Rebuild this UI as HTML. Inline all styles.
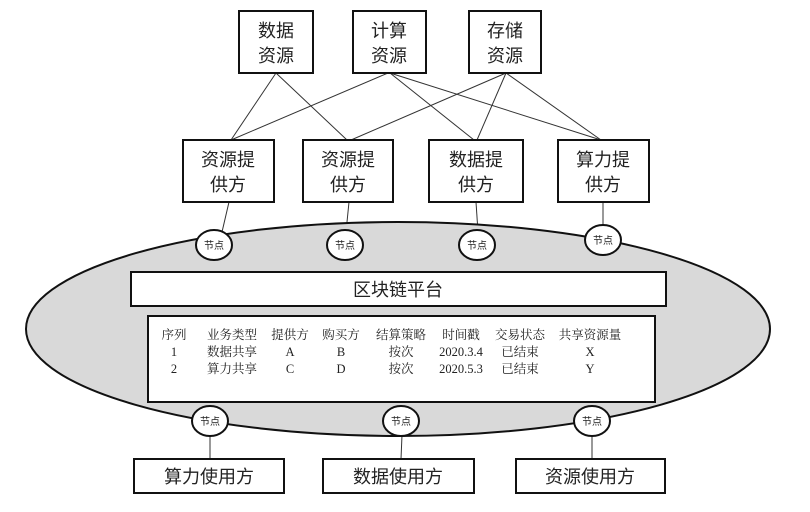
<!DOCTYPE html>
<html><head><meta charset="utf-8"><style>
body{margin:0;background:#fff}
svg text{fill:#222}
.sans text{font-family:"Liberation Sans","Noto Sans CJK SC",sans-serif}
.ser text{font-family:"Liberation Serif","Noto Serif CJK SC",serif}
</style></head><body>
<svg width="810" height="507" viewBox="0 0 810 507" xmlns="http://www.w3.org/2000/svg">
<g stroke="#333" stroke-width="1" fill="none">
<line x1="276" y1="73" x2="231" y2="140"/><line x1="276" y1="73" x2="347" y2="140"/>
<line x1="388" y1="73" x2="231" y2="140"/><line x1="390" y1="73" x2="474" y2="140"/><line x1="390" y1="73" x2="601" y2="140"/>
<line x1="506" y1="73" x2="351" y2="140"/><line x1="506" y1="73" x2="477" y2="140"/><line x1="506" y1="73" x2="601" y2="140"/>
<line x1="229" y1="202" x2="222" y2="232"/><line x1="349" y1="202" x2="346" y2="232"/><line x1="476" y1="202" x2="478" y2="232"/><line x1="603" y1="202" x2="603" y2="228"/>
<line x1="210" y1="435" x2="210" y2="459"/><line x1="402" y1="435" x2="401" y2="459"/><line x1="592" y1="435" x2="592" y2="459"/>
</g>
<ellipse cx="398" cy="329" rx="372" ry="107" fill="#d9d9d9" stroke="#111" stroke-width="2"/>
<g fill="#fff" stroke="#111" stroke-width="2">
<rect x="239" y="11" width="74" height="62"/><rect x="353" y="11" width="73" height="62"/><rect x="469" y="11" width="72" height="62"/>
<rect x="183" y="140" width="91" height="62"/><rect x="303" y="140" width="90" height="62"/><rect x="429" y="140" width="94" height="62"/><rect x="558" y="140" width="91" height="62"/>
<rect x="131" y="272" width="535" height="34"/><rect x="148" y="316" width="507" height="86"/>
<rect x="134" y="459" width="150" height="34"/><rect x="323" y="459" width="151" height="34"/><rect x="516" y="459" width="149" height="34"/>
<ellipse cx="214" cy="245" rx="18" ry="15"/><ellipse cx="345" cy="245" rx="18" ry="15"/><ellipse cx="477" cy="245" rx="18" ry="15"/><ellipse cx="603" cy="240" rx="18" ry="15"/>
<ellipse cx="210" cy="421" rx="18" ry="15"/><ellipse cx="401" cy="421" rx="18" ry="15"/><ellipse cx="592" cy="421" rx="18" ry="15"/>
</g>
<g class="sans" font-size="18" text-anchor="middle">
<text x="276" y="37">数据</text><text x="276" y="62">资源</text>
<text x="389" y="37">计算</text><text x="389" y="62">资源</text>
<text x="505" y="37">存储</text><text x="505" y="62">资源</text>
<text x="228" y="166">资源提</text><text x="228" y="191">供方</text>
<text x="348" y="166">资源提</text><text x="348" y="191">供方</text>
<text x="476" y="166">数据提</text><text x="476" y="191">供方</text>
<text x="603" y="166">算力提</text><text x="603" y="191">供方</text>
<text x="398" y="296">区块链平台</text>
<text x="209" y="483">算力使用方</text><text x="398" y="483">数据使用方</text><text x="590" y="483">资源使用方</text>
</g>
<g class="sans" font-size="10" text-anchor="middle">
<text x="214" y="249">节点</text><text x="345" y="249">节点</text><text x="477" y="249">节点</text><text x="603" y="244">节点</text>
<text x="210" y="425">节点</text><text x="401" y="425">节点</text><text x="592" y="425">节点</text>
</g>
<g class="ser" font-size="12.5" text-anchor="middle">
<text x="174" y="339">序列</text><text x="232" y="339">业务类型</text><text x="290" y="339">提供方</text><text x="341" y="339">购买方</text><text x="401" y="339">结算策略</text><text x="461" y="339">时间戳</text><text x="520" y="339">交易状态</text><text x="590" y="339">共享资源量</text>
<text x="174" y="356">1</text><text x="232" y="356">数据共享</text><text x="290" y="356">A</text><text x="341" y="356">B</text><text x="401" y="356">按次</text><text x="461" y="356">2020.3.4</text><text x="520" y="356">已结束</text><text x="590" y="356">X</text>
<text x="174" y="373">2</text><text x="232" y="373">算力共享</text><text x="290" y="373">C</text><text x="341" y="373">D</text><text x="401" y="373">按次</text><text x="461" y="373">2020.5.3</text><text x="520" y="373">已结束</text><text x="590" y="373">Y</text>
</g>
</svg>
</body></html>
